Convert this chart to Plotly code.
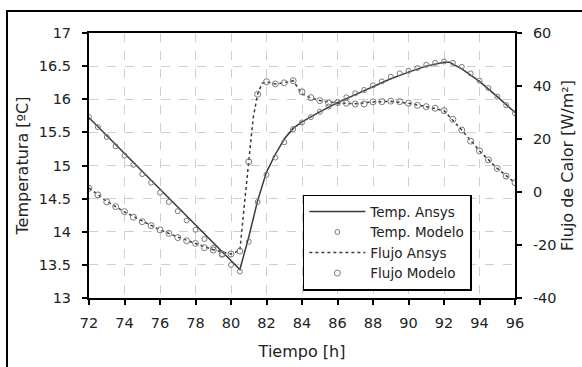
import plotly.graph_objects as go

# ---- data ----
t_model = [72.0 + 0.5 * i for i in range(49)]
temp_modelo = [15.73, 15.58, 15.43, 15.29, 15.15, 15.01, 14.87, 14.74, 14.59, 14.45,
               14.31, 14.17, 14.03, 13.89, 13.76, 13.66, 13.50, 13.40, 13.85, 14.45,
               14.86, 15.12, 15.35, 15.55, 15.65, 15.73, 15.81, 15.89, 15.96, 16.03,
               16.09, 16.14, 16.21, 16.27, 16.34, 16.39, 16.43, 16.47, 16.52, 16.55,
               16.57, 16.55, 16.49, 16.39, 16.28, 16.17, 16.04, 15.91, 15.79]
flujo_modelo = [1.4, -1.1, -3.7, -5.5, -7.4, -9.5, -11.2, -12.7, -14.3, -15.6,
                -17.2, -18.4, -19.4, -21.0, -21.9, -23.5, -23.4, -22.3, 11.4, 36.9,
                41.6, 40.8, 41.2, 42.0, 37.8, 35.6, 34.5, 33.5, 33.7, 33.5,
                33.2, 33.2, 34.0, 34.1, 34.3, 34.1, 33.5, 32.7, 32.2, 31.6,
                30.7, 27.4, 23.4, 19.2, 15.5, 12.1, 8.9, 6.0, 3.5]

t_ansys_temp = [72, 80.5, 81, 81.5, 82, 82.5, 83, 83.5, 84, 84.5, 85, 86, 87, 88, 89,
                90, 91, 92, 92.3, 93, 94, 95, 96]
temp_ansys = [15.72, 13.43, 13.92, 14.47, 14.9, 15.17, 15.4, 15.56, 15.66, 15.74, 15.81,
              15.95, 16.07, 16.19, 16.31, 16.41, 16.5, 16.56, 16.56, 16.46, 16.27,
              16.04, 15.8]

t_ansys_flujo = [72, 73, 74, 75, 76, 77, 78, 79, 80, 80.5, 80.75, 81, 81.25, 81.5, 81.75,
                 82, 82.5, 83, 83.5, 84, 84.5, 85, 86, 87, 88, 89, 90, 91, 92, 93, 94,
                 95, 96]
flujo_ansys = [1.5, -3.5, -7.5, -11.0, -14.3, -17.0, -19.5, -21.8, -23.4, -22.0, -5.0,
               12.0, 28.0, 37.0, 41.0, 41.5, 40.8, 41.2, 42.0, 37.0, 35.5, 34.5, 33.6,
               33.3, 34.0, 34.2, 33.5, 32.2, 30.7, 23.4, 15.5, 8.9, 3.5]

x_ticks = list(range(72, 97, 2))
y_ticks = [13, 13.5, 14, 14.5, 15, 15.5, 16, 16.5, 17]
y2_ticks = [-40, -20, 0, 20, 40, 60]
y2_labels = ["-40", "-20", "0", "20", "40", "60"]

FONT = "DejaVu Sans"
LINE = "#3a3a3a"
MARK = "#7a7a7a"
TXT = "#222222"
TICK = 14.5
TITLE = 16

fig = go.Figure()
fig.add_trace(go.Scatter(x=t_ansys_temp, y=temp_ansys, mode="lines", name="Temp. Ansys",
                         line=dict(color=LINE, width=1.5)))
fig.add_trace(go.Scatter(x=t_model, y=temp_modelo, mode="markers", name="Temp. Modelo",
                         marker=dict(symbol="circle-open", size=5, color=MARK,
                                     line=dict(width=1, color=MARK))))
fig.add_trace(go.Scatter(x=t_ansys_flujo, y=flujo_ansys, mode="lines", name="Flujo Ansys",
                         yaxis="y2", line=dict(color=LINE, width=1.5, dash="dot")))
fig.add_trace(go.Scatter(x=t_model, y=flujo_modelo, mode="markers", name="Flujo Modelo",
                         yaxis="y2",
                         marker=dict(symbol="circle-open", size=6, color=MARK,
                                     line=dict(width=1, color=MARK))))

grid = dict(gridcolor="#cfcfcf", griddash="dash", gridwidth=1)
fig.update_layout(
    width=582, height=367,
    margin=dict(l=89, r=67, t=33, b=69),
    paper_bgcolor="white", plot_bgcolor="white",
    font=dict(family=FONT, size=TICK, color=TXT),
    showlegend=True,
    legend=dict(x=0.502, y=0.39, xanchor="left", yanchor="top",
                bordercolor="black", borderwidth=1.5, bgcolor="white",
                font=dict(size=13.5, family=FONT, color=TXT), itemwidth=56,
                entrywidth=172, entrywidthmode="pixels",
                tracegroupgap=0),
    xaxis=dict(range=[72, 96], tickvals=x_ticks, showline=True, linecolor="black",
               linewidth=2, mirror=True, ticks="outside", ticklen=5, tickcolor="black",
               tickwidth=1.5, zeroline=False, ticklabelstandoff=6, automargin=False,
               tickfont=dict(size=TICK),
               title=dict(text="Tiempo [h]", font=dict(size=TITLE), standoff=15), **grid),
    yaxis=dict(range=[13, 17], tickvals=y_ticks, showline=True, linecolor="black",
               linewidth=2, ticks="outside", ticklen=5, tickcolor="black", tickwidth=1.5,
               zeroline=False, ticklabelstandoff=8, automargin=False,
               tickfont=dict(size=TICK),
               title=dict(text="Temperatura [ºC]", font=dict(size=TITLE), standoff=6), **grid),
    yaxis2=dict(range=[-40, 60], tickvals=y2_ticks, ticktext=y2_labels, overlaying="y",
                side="right", showline=True, linecolor="black", linewidth=2,
                ticks="outside", ticklen=5, tickcolor="black", tickwidth=1.5,
                showgrid=False, zeroline=False, ticklabelstandoff=8, automargin=False,
                tickfont=dict(size=TICK),
                title=dict(text="Flujo de Calor [W/m²]", font=dict(size=TITLE), standoff=6)),
)

fig.add_shape(type="rect", xref="paper", yref="paper",
              x0=(7 - 89) / 426, x1=(600 - 89) / 426,
              y0=(298 - 380) / 265, y1=(298 - 11) / 265,
              line=dict(color="black", width=2), fillcolor="rgba(0,0,0,0)", layer="below")

fig.write_html("out.html")
